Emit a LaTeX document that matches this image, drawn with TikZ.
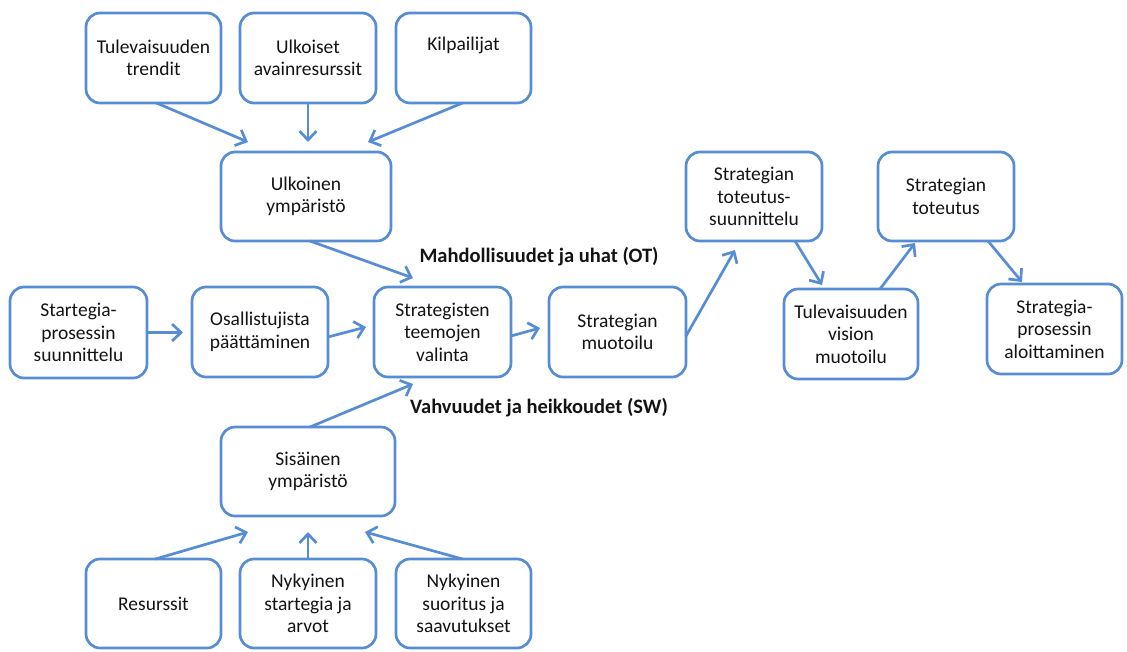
\documentclass[tikz,border=0pt]{standalone}
\usepackage{fontspec}
\setmainfont{Carlito}
\usetikzlibrary{arrows.meta}
\definecolor{boxblue}{RGB}{86,141,212}
\definecolor{txt}{RGB}{20,20,20}
\tikzset{
  box/.style={draw=boxblue, line width=2.7pt, rounded corners=14pt, fill=white,
    minimum width=135pt, minimum height=90pt, inner sep=0pt, outer sep=0pt,
    align=center, text=txt, font=\fontsize{19.5}{22.5}\selectfont},
  lbl/.style={font=\fontsize{20.5}{23}\selectfont\bfseries, text=txt, inner sep=0pt},
  arr/.style={draw=boxblue, line width=2.7pt, -{Straight Barb[length=9pt,width=17pt]}}
}
\begin{document}
\begin{tikzpicture}[x=1pt,y=-1pt]
\useasboundingbox (0,0) rectangle (1127,651);
% top row
\node[box] (trend) at (153.5,58) {Tulevaisuuden\\trendit};
\node[box, minimum width=136pt] (avain) at (308,58) {Ulkoiset\\avainresurssit};
\node[box] (kilp) at (463.5,58) {Kilpailijat\\\strut};
\node[box, minimum width=170pt, minimum height=89pt] (ulk) at (306,196.5) {Ulkoinen\\ymp\"arist\"o};
% middle row
\node[box, minimum width=137pt, minimum height=91pt] (start) at (78.5,332.5) {Startegia-\\prosessin\\suunnittelu};
\node[box, minimum width=136pt] (osal) at (260,332) {Osallistujista\\p\"a\"att\"aminen};
\node[box, minimum width=137pt] (teem) at (442.5,332) {Strategisten\\teemojen\\valinta};
\node[box, minimum width=137pt] (muot) at (617.5,332) {Strategian\\muotoilu};
\node[box, minimum width=136pt, minimum height=89pt] (tsuun) at (754,196.5) {Strategian\\toteutus-\\suunnittelu};
\node[box, minimum width=134pt] (vision) at (851,334) {Tulevaisuuden\\vision\\muotoilu};
\node[box, minimum width=136pt, minimum height=89pt] (tot) at (946,196.5) {Strategian\\toteutus};
\node[box] (aloit) at (1054.5,329) {Strategia-\\prosessin\\aloittaminen};
% lower part
\node[box, minimum width=174pt, minimum height=89pt] (sis) at (308,471.5) {Sis\"ainen\\ymp\"arist\"o};
\node[box, minimum height=89pt] (res) at (153.5,603.5) {Resurssit};
\node[box, minimum width=136pt, minimum height=89pt] (nyk1) at (308,603.5) {Nykyinen\\startegia ja\\arvot};
\node[box, minimum height=89pt] (nyk2) at (463.5,603.5) {Nykyinen\\suoritus ja\\saavutukset};
% labels
\node[lbl] (ot) at (539,257) {Mahdollisuudet ja uhat (OT)};
\node[lbl] (sw) at (539,408) {Vahvuudet ja heikkoudet (SW)};
% connectors
\draw[arr] ([xshift=3pt]trend.south) -- ([shift={(-58,-10)}]ulk.north);
\draw[arr] (avain.south) -- ([shift={(2,-10)}]ulk.north);
\draw[arr] ([xshift=-1pt]kilp.south) -- ([shift={(62,-10)}]ulk.north);
\draw[arr] ([xshift=4pt]ulk.south) -- ([shift={(-29.5,-9)}]teem.north);
\draw[arr] ([xshift=2pt]sis.north) -- ([shift={(-29.5,7)}]teem.south);
\draw[arr] ([xshift=2pt]res.north) -- ([shift={(-60,16)}]sis.south);
\draw[arr] (nyk1.north) -- ([shift={(0,16)}]sis.south);
\draw[arr] ([xshift=-1pt]nyk2.north) -- ([shift={(57,16)}]sis.south);
\draw[arr] (start.east) -- ([shift={(-9,0.5)}]osal.west);
\draw[arr] ([yshift=-5pt]osal.east) -- ([shift={(-8,-5)}]teem.west);
\draw[arr] ([yshift=-4pt]teem.east) -- ([shift={(-9,-4)}]muot.west);
\draw[arr] ([yshift=-4pt]muot.east) -- ([shift={(-19,9)}]tsuun.south);
\draw[arr] ([xshift=41pt]tsuun.south) -- ([shift={(-29,-4)}]vision.north);
\draw[arr] ([xshift=29pt]vision.north) -- ([shift={(-31,2)}]tot.south);
\draw[arr] ([xshift=42pt]tot.south) -- ([shift={(-32.5,-2)}]aloit.north);
\end{tikzpicture}
\end{document}
